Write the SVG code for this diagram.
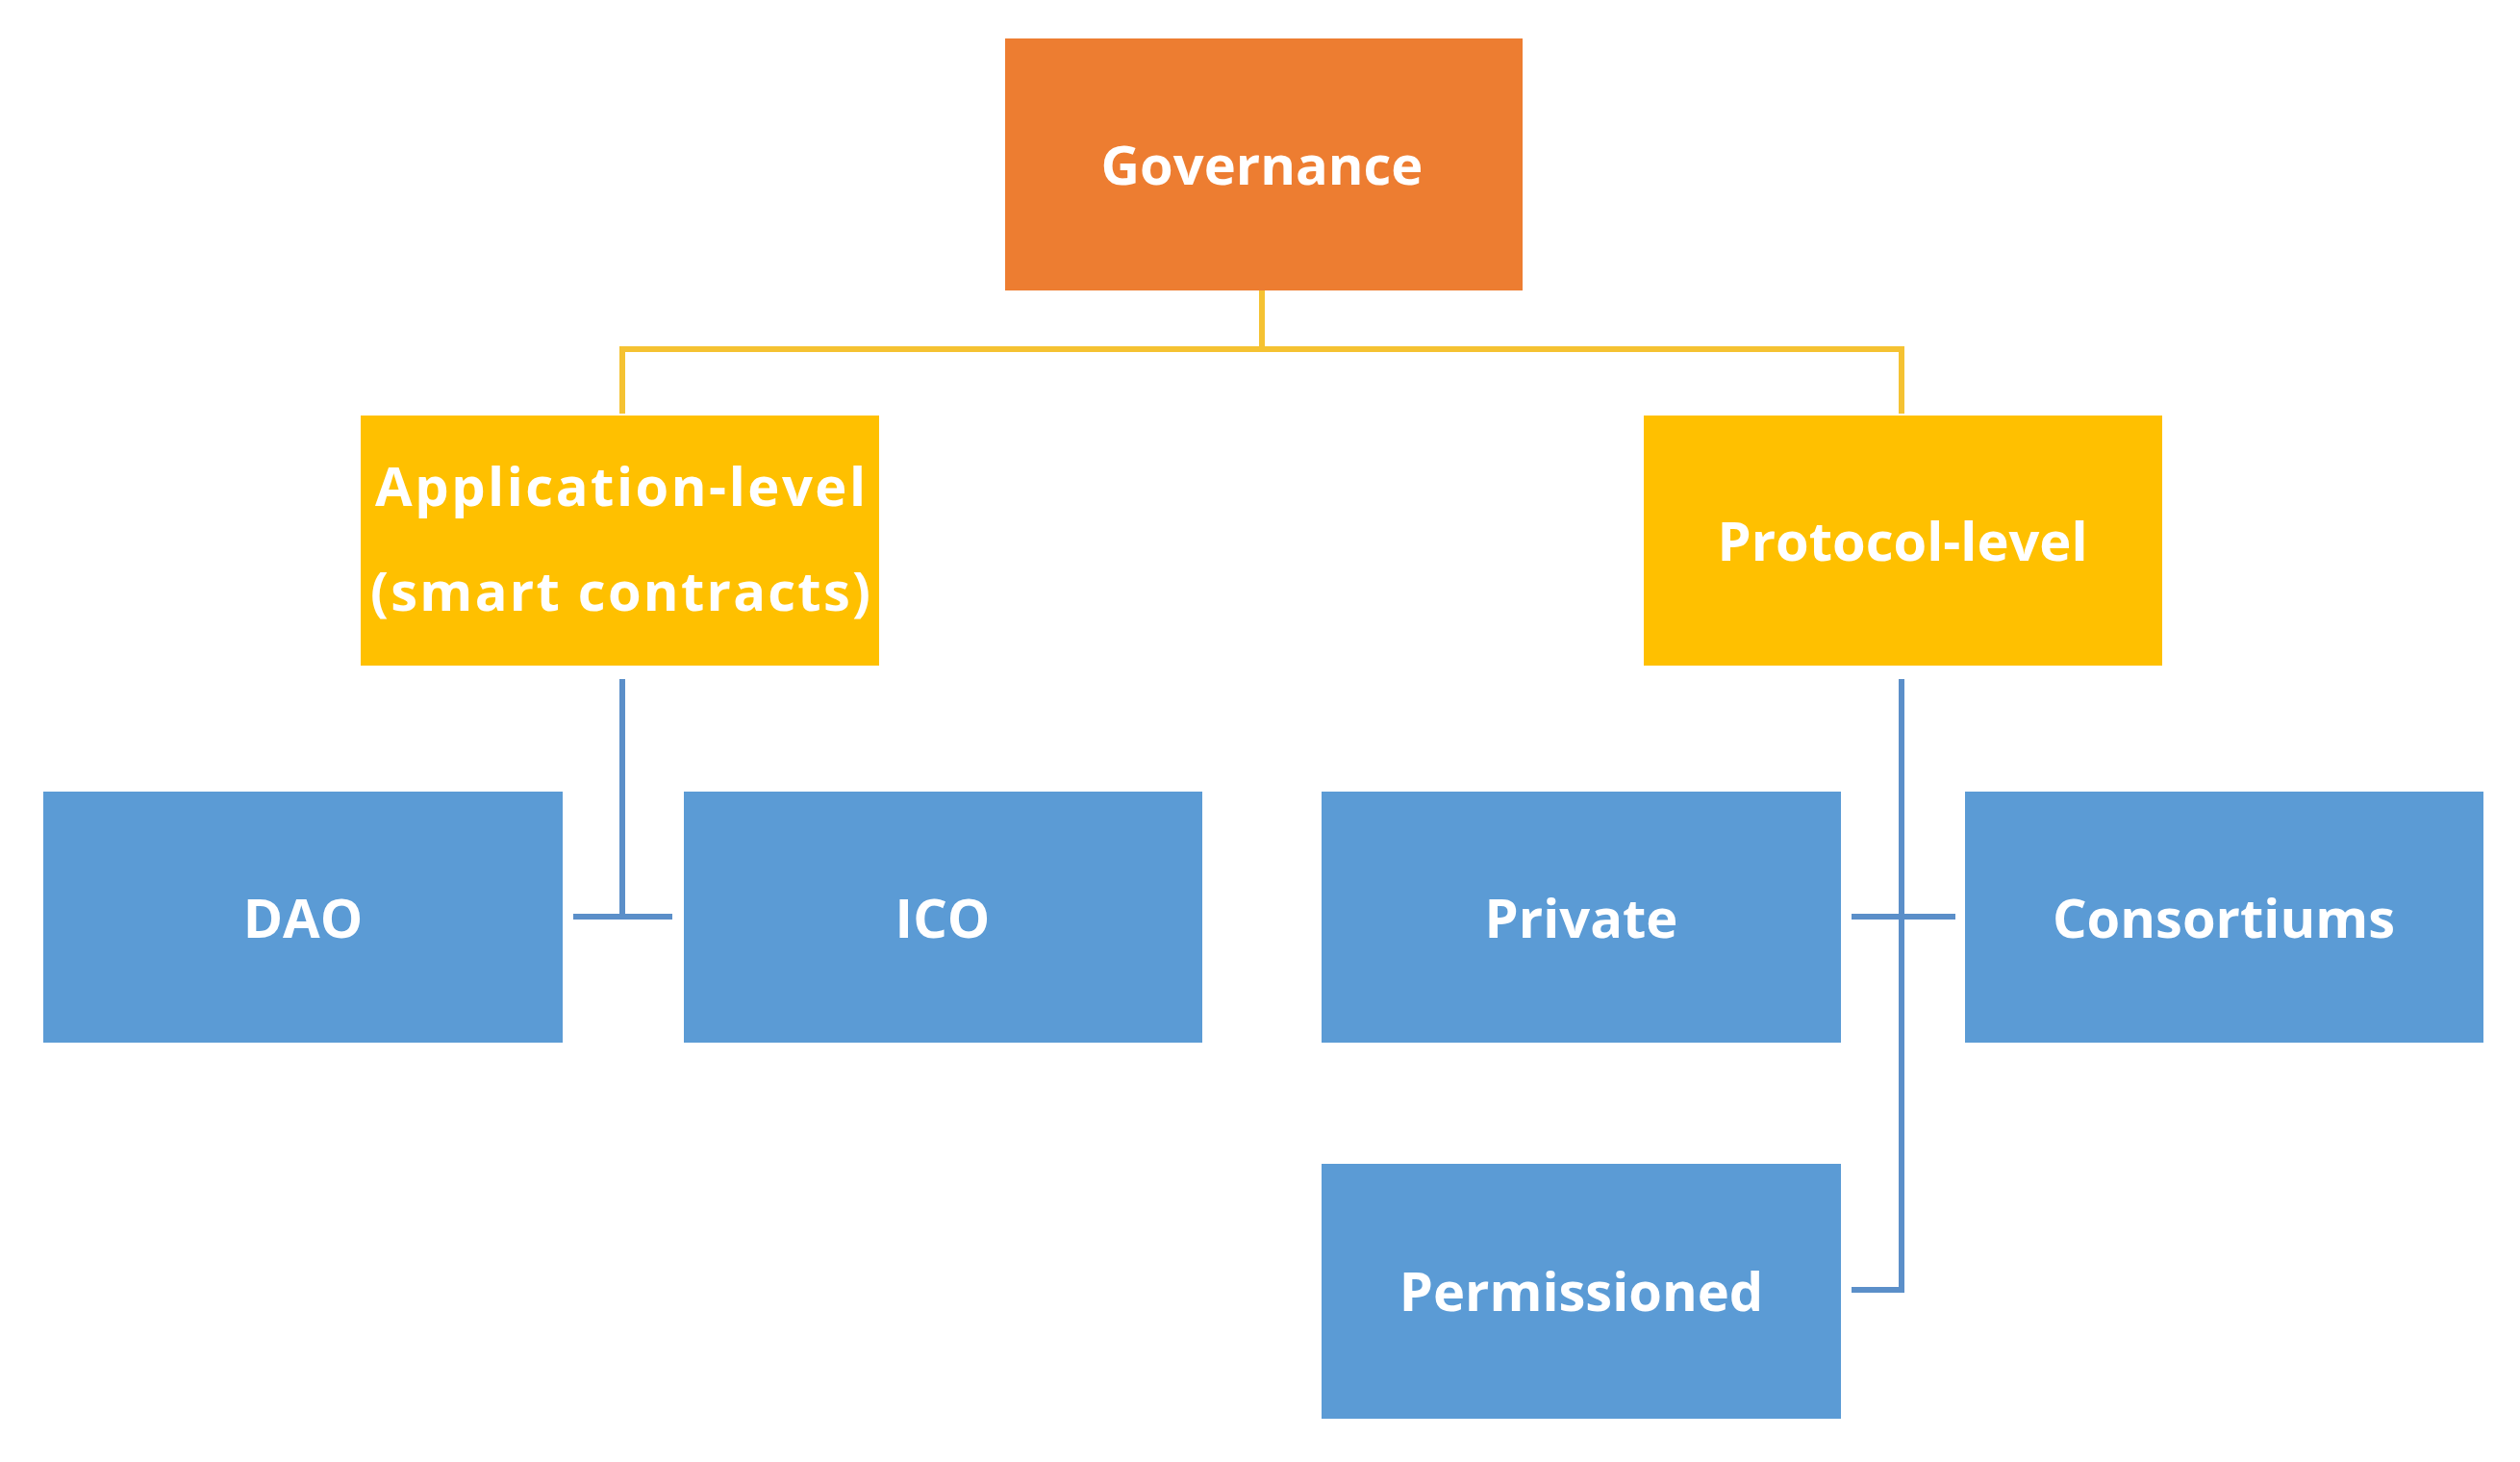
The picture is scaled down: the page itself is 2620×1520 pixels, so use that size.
<svg xmlns="http://www.w3.org/2000/svg" width="2620" height="1520" viewBox="0 0 2620 1520">
<style>
.t{font-family:"Open Sans","Liberation Sans",sans-serif;font-weight:bold;font-size:56px;fill:#fff;text-anchor:middle;dominant-baseline:central}
.y{stroke:#F5C232;stroke-width:6;fill:none}
.b{stroke:#5B8FC9;stroke-width:6;fill:none}
</style>
<rect width="2620" height="1520" fill="#fff"/>
<g id="connectors">
<path class="y" d="M1312 302V363M647 430V363H1977V430"/>
<path class="b" d="M647 706V953M596 953H699"/>
<path class="b" d="M1977 706V1341H1925M1925 953H2033"/>
</g>
<g id="governance"><rect x="1045" y="40" width="538" height="262" fill="#ED7D31"/><text class="t" x="1312" y="170">Governance</text></g>
<g id="app"><rect x="375" y="432" width="539" height="260" fill="#FFC000"/><text class="t" x="645" y="504" textLength="510">Application-level</text><text class="t" x="645" y="613" textLength="520">(smart contracts)</text></g>
<g id="protocol"><rect x="1709" y="432" width="539" height="260" fill="#FFC000"/><text class="t" x="1978" y="561">Protocol-level</text></g>
<g id="dao"><rect x="45" y="823" width="540" height="261" fill="#5B9BD5"/><text class="t" x="315" y="953">DAO</text></g>
<g id="ico"><rect x="711" y="823" width="539" height="261" fill="#5B9BD5"/><text class="t" x="980" y="953">ICO</text></g>
<g id="private"><rect x="1374" y="823" width="540" height="261" fill="#5B9BD5"/><text class="t" x="1644" y="953">Private</text></g>
<g id="consortiums"><rect x="2043" y="823" width="539" height="261" fill="#5B9BD5"/><text class="t" x="2312" y="953">Consortiums</text></g>
<g id="permissioned"><rect x="1374" y="1210" width="540" height="265" fill="#5B9BD5"/><text class="t" x="1644" y="1341">Permissioned</text></g>
</svg>
